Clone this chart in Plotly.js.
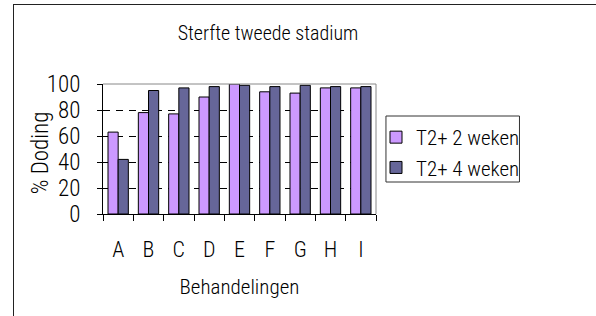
<!DOCTYPE html>
<html><head><meta charset="utf-8">
<script src="https://cdn.plot.ly/plotly-3.0.1.min.js"></script>
<style>
html,body{margin:0;padding:0;background:#fff;}
#wrap{position:relative;width:596px;height:316px;overflow:hidden;}
#chart{position:absolute;left:0;top:0;width:596px;height:316px;}
#frame{position:absolute;left:13px;top:4px;width:640px;height:400px;border-left:1px solid #222;border-top:1px solid #222;pointer-events:none;}
</style></head>
<body><div id="wrap"><div id="chart"></div><div id="frame"></div></div>
<script>
const categories = ["A","B","C","D","E","F","G","H","I"];
const seriesNames = ["T2+ 2 weken","T2+ 4 weken"];
const week2 = [63, 78, 77, 90, 100, 94, 93, 97, 97];
const week4 = [42, 95, 97, 98, 99, 98, 99, 98, 98];
const yTicks = [0, 20, 40, 60, 80, 100];

const font = "Roboto Condensed, DejaVu Sans Condensed, sans-serif";
const W = 300;

const traces = [
  {type:"bar", name:seriesNames[0], x:categories, y:week2,
   marker:{color:"#CC99FF", line:{color:"#000", width:1}}},
  {type:"bar", name:seriesNames[1], x:categories, y:week4,
   marker:{color:"#666699", line:{color:"#000", width:1}}}
];

const px = v => (v - 103) / 274;      // page x -> paper x
const py = v => (214 - v) / 130;      // page y -> paper y

const layout = {
  width:596, height:316,
  margin:{l:103, r:219, t:84, b:102, pad:0},
  paper_bgcolor:"#fff", plot_bgcolor:"#fff",
  font:{family:font, size:21, color:"#000", weight:W},
  title:{text:"Sterfte tweede stadium", font:{family:font, size:20, color:"#000", weight:W},
         x:268/596, xanchor:"center", y:1-33/316, yanchor:"middle", xref:"container", yref:"container"},
  barmode:"group", bargap:0.33, bargroupgap:0,
  xaxis:{type:"category", tickson:"boundaries", ticks:"outside", ticklen:6, tickcolor:"#000", tickwidth:1,
         showline:true, linecolor:"#000", linewidth:1, showgrid:false,
         tickfont:{family:font, size:22, weight:W}, ticklabelstandoff:16,
         title:{text:"Behandelingen", font:{family:font, size:21, weight:W}, standoff:17}},
  yaxis:{range:[0,100], tickvals:yTicks, ticks:"outside", ticklen:5, tickcolor:"#000",
         showline:true, linecolor:"#000", linewidth:1,
         showgrid:true, gridcolor:"#000", gridwidth:1, griddash:"7px,6px", zeroline:false,
         tickfont:{family:font, size:23, weight:W}, ticklabelstandoff:12},
  annotations:[
    {text:"% Doding", xref:"paper", yref:"paper", x:px(40), y:py(153), xanchor:"center", yanchor:"middle",
     textangle:-90, showarrow:false, font:{family:font, size:23, weight:W}}
  ],
  legend:{xref:"container", yref:"container", x:376/596, y:1-117/316, xanchor:"left", yanchor:"top",
          bgcolor:"rgba(0,0,0,0)", borderwidth:0, font:{family:font, size:21, weight:W},
          itemclick:false, tracegroupgap:0},
  shapes:[
    {type:"rect", xref:"paper", yref:"paper", x0:px(387), x1:px(521), y0:py(182), y1:py(116),
     line:{color:"#333", width:1}, fillcolor:"#fff", layer:"below"},
    {type:"line", xref:"paper", yref:"paper", x0:0, x1:1, y0:1, y1:1, line:{color:"#888", width:1}, layer:"above"},
    {type:"line", xref:"paper", yref:"paper", x0:1, x1:1, y0:0, y1:1, line:{color:"#888", width:1}, layer:"above"}
  ],
  showlegend:true
};
Plotly.newPlot("chart", traces, layout, {staticPlot:true, displayModeBar:false});
</script></body></html>
